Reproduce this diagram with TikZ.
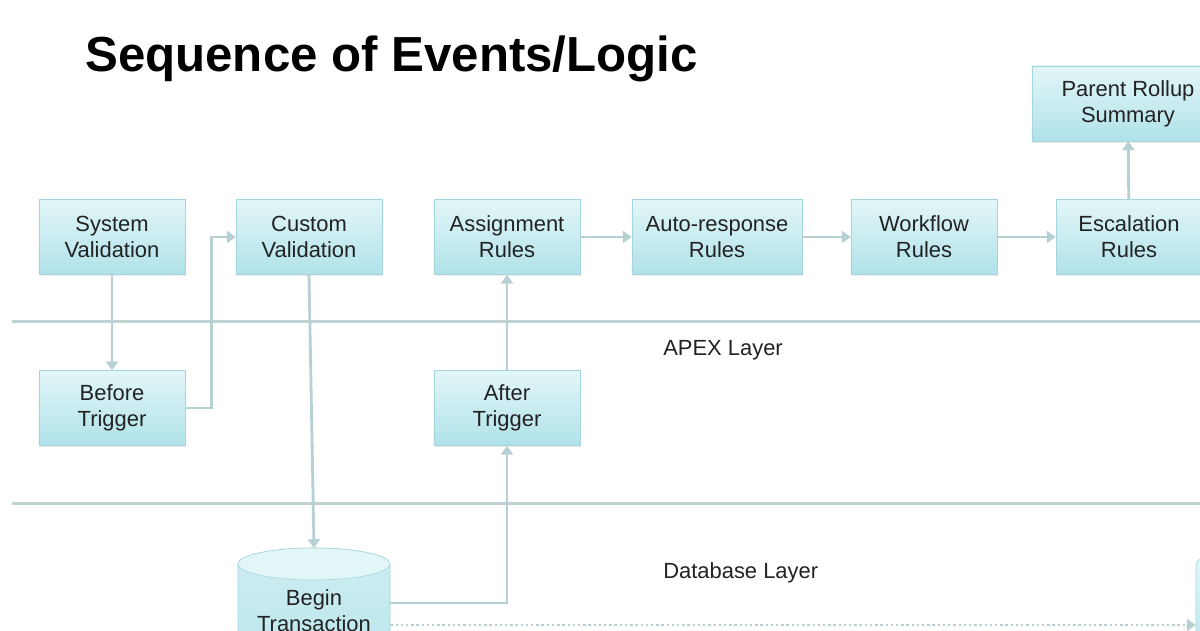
\documentclass[tikz,border=0pt]{standalone}
\usepackage{fontspec}
\setmainfont{Liberation Sans}
\usetikzlibrary{arrows.meta,shadows}

\definecolor{boxtop}{HTML}{E2F6F8}
\definecolor{boxbot}{HTML}{B0E2E9}
\definecolor{boxedge}{HTML}{A3D5DB}
\definecolor{layerline}{HTML}{C0D2D4}
\definecolor{linkcol}{HTML}{B7D0D3}
\definecolor{textgray}{HTML}{222222}

\tikzset{
  stepbox/.style={draw=boxedge, top color=boxtop, bottom color=boxbot,
    minimum width=3.65cm, minimum height=1.875cm, align=center,
    text=textgray, font=\fontsize{15.6}{18.5}\selectfont,
    drop shadow={opacity=0.15, shadow xshift=0.03cm, shadow yshift=-0.04cm}},
  link/.style={draw=linkcol, line width=0.07cm,
    -{Triangle[length=0.22cm,width=0.3cm]}},
  dotlink/.style={draw=linkcol, line width=0.06cm, dotted,
    -{Triangle[length=0.22cm,width=0.3cm]}},
  layer/.style={draw=layerline, line width=0.075cm},
  layertext/.style={anchor=west, inner sep=0pt, text=textgray, font=\fontsize{15.6}{18.5}\selectfont}
}

\begin{document}
\begin{tikzpicture}[x=0.025cm,y=-0.025cm]
    \clip (0,0) rectangle (1200,630);
    \fill[white] (0,0) rectangle (1200,630);

    %TITLE
    \node (title) at (85,72) [anchor=base west, inner sep=0pt, font=\fontsize{35}{40}\selectfont\bfseries] {Sequence of Events/Logic};

    %LAYERS
    \draw [layer] (12,321) -- (1200,321);
    \draw [layer] (12,503) -- (1200,503);
    \node (apex) at (663,350) [layertext] {APEX Layer};
    \node (dblayer) at (663,573) [layertext] {Database Layer};

    %TOP ROW
    \node (sysval) at (112,237) [stepbox] {System\\Validation};
    \node (custom) at (309,237) [stepbox] {Custom\\Validation};
    \node (assign) at (507,237) [stepbox] {Assignment\\Rules};
    \node (auto) at (717,237) [stepbox, minimum width=4.25cm] {Auto-response\\Rules};
    \node (workflow) at (924,237) [stepbox] {Workflow\\Rules};
    \node (escal) at (1129,237) [stepbox] {Escalation\\Rules};
    \node (rollup) at (1128,103.5) [stepbox, minimum width=4.8cm] {Parent Rollup\\Summary};

    %TRIGGERS
    \node (before) at (112,408) [stepbox] {Before\\Trigger};
    \node (after) at (507,408) [stepbox] {After\\Trigger};

    %CYLINDER
    \draw [draw=boxedge, top color=boxtop!60!boxbot, bottom color=boxbot] (238,564) -- (238,720) -- (390,720) -- (390,564)
        arc[start angle=0, end angle=180, x radius=1.9cm, y radius=0.4cm];
    \draw [draw=boxedge, fill=boxtop] (314,564) ellipse [x radius=1.9cm, y radius=0.4cm];
    \node (begin) at (314,611) [minimum width=3.8cm, align=center, text=textgray, font=\fontsize{15.6}{18.5}\selectfont] {Begin\\Transaction};
    \coordinate (cyltop) at (314,548);

    %NEXT STEP (cut off)
    \node (commit) at (1276,618) [draw=boxedge, top color=boxtop, bottom color=boxbot, rounded corners=0.2cm, minimum width=4cm, minimum height=3cm] {};

    %ARROWS
    \draw [link] (sysval) -- (before);
    \draw [link] (before.east) -- ++(26,0) |- (custom.west);
    \draw [link] (custom.south) -- (cyltop);
    \draw [link] ([yshift=0.2cm]begin.east) -| (after.south);
    \draw [link] (after) -- (assign);
    \draw [link] (assign) -- (auto);
    \draw [link] (auto) -- (workflow);
    \draw [link] (workflow) -- (escal);
    \draw [link] (escal) -- (rollup);
    \draw [dotlink] ([yshift=-0.35cm]begin.east) -- ([yshift=-0.35cm]begin.east -| commit.west);
\end{tikzpicture}
\end{document}
